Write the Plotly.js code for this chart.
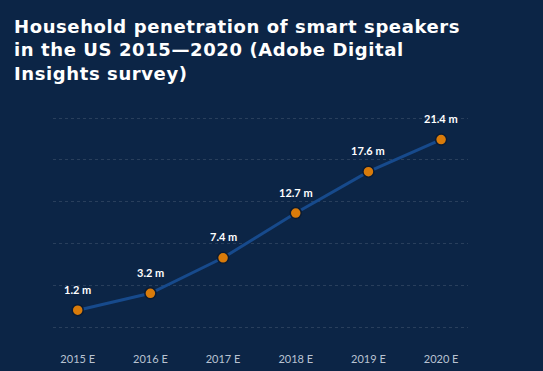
<!DOCTYPE html>
<html>
<head>
<meta charset="utf-8">
<script src="https://cdn.plot.ly/plotly-3.0.1.min.js"></script>
<style>html,body{margin:0;padding:0;background:#0c2546;}#chart{width:543px;height:371px;}
#chart .gtitle{letter-spacing:0.6px;}</style>
</head>
<body>
<div id="chart"></div>
<script>
const years = ["2015 E", "2016 E", "2017 E", "2018 E", "2019 E", "2020 E"];
const households = [1.2, 3.2, 7.4, 12.7, 17.6, 21.4];
const valueLabels = ["1.2 m", "3.2 m", "7.4 m", "12.7 m", "17.6 m", "21.4 m"];

const trace = {
  x: years,
  y: households,
  type: "scatter",
  mode: "lines+markers",
  line: {color: "#174a8c", width: 3},
  marker: {color: "#d97b0a", size: 11, line: {color: "#0a1b33", width: 1.5}},
  hoverinfo: "skip"
};

const annotations = years.map((yr, i) => ({
  x: yr, y: households[i], text: valueLabels[i],
  showarrow: false, yshift: 21,
  font: {family: "Lato, 'Open Sans', sans-serif", size: 11, color: "#ffffff", weight: "bold"}
}));

const layout = {
  width: 543, height: 371,
  paper_bgcolor: "#0c2546", plot_bgcolor: "#0c2546",
  margin: {l: 53, r: 75, t: 110, b: 36},
  showlegend: false,
  title: {
    text: "Household penetration of smart speakers<br>in the US 2015\u20142020 (Adobe Digital<br>Insights survey)",
    xref: "container", yref: "container", x: 14/543, xanchor: "left", y: 1 - 33/371, yanchor: "top",
    font: {family: "'DejaVu Sans', sans-serif", size: 18, color: "#ffffff", weight: "bold"}
  },
  xaxis: {
    type: "category", range: [-0.34, 5.37],
    showgrid: false, zeroline: false, showline: false, ticks: "",
    ticklabelstandoff: 16,
    tickfont: {family: "Lato, sans-serif", size: 11, color: "#b9c3d2"}
  },
  yaxis: {
    range: [-1.74, 24.9], tick0: -0.8, dtick: 4.95,
    showticklabels: false, zeroline: false, showline: false,
    gridcolor: "rgba(255,255,255,0.12)", griddash: "dot", gridwidth: 1
  },
  annotations: annotations
};

Plotly.newPlot("chart", [trace], layout, {displayModeBar: false, staticPlot: true});
</script>
</body>
</html>
